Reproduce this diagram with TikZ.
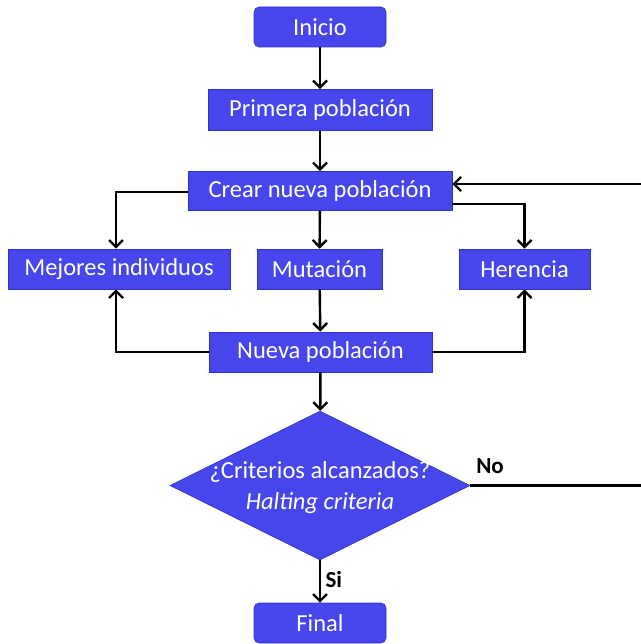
\documentclass[tikz,border=0pt]{standalone}
\usepackage{fontspec}
\setmainfont{Carlito}
\usetikzlibrary{arrows.meta,shapes.geometric}
\definecolor{boxblue}{RGB}{70,70,236}
\definecolor{boxedge}{RGB}{50,50,200}
\begin{document}
\begin{tikzpicture}[x=1pt,y=-1pt,
  box/.style={draw=boxedge,fill=boxblue,text=white,font=\fontsize{24.5}{28}\selectfont,inner sep=0pt,line width=0.6pt},
  rbox/.style={box,rounded corners=5pt},
  dec/.style={draw=boxedge,fill=boxblue,diamond,inner sep=0pt,line width=0.6pt},
  dectext/.style={text=white,font=\fontsize{24.5}{31}\selectfont,align=center,inner sep=0pt},
  conn/.style={draw=black,line width=2.4pt,-{Straight Barb[length=7pt,width=14pt]}},
  lbl/.style={font=\bfseries\fontsize{23}{26}\selectfont}]
\useasboundingbox (0,0) rectangle (640,644);
\node[rbox,minimum width=132pt,minimum height=40pt] (ini) at (320,27) {Inicio};
\node[box,minimum width=224pt,minimum height=41pt] (pri) at (320,110) {Primera población};
\node[box,minimum width=264pt,minimum height=39pt] (cre) at (320,191) {Crear nueva población};
\node[box,minimum width=222pt,minimum height=40pt] (mej) at (119,269) {Mejores individuos};
\node[box,minimum width=125pt,minimum height=40pt] (mut) at (319.5,269) {Mutación};
\node[box,minimum width=131pt,minimum height=40pt] (her) at (524.5,269) {Herencia};
\node[box,minimum width=223pt,minimum height=40pt] (nue) at (320.5,352) {Nueva población};
\node[dec,minimum width=300pt,minimum height=149pt] (dia) at (320,485.5) {};
\node[dectext] (diat) at (320,488) {¿Criterios alcanzados?\\\textit{Halting criteria}};
\node[rbox,minimum width=132pt,minimum height=40pt] (fin) at (320,623) {Final};
\coordinate (edgeR) at (648,485.5);
\coordinate (edgeT) at (648,184);
\draw[conn] (ini) -- (pri);
\draw[conn] (pri) -- (cre);
\draw[conn] (cre) -- (mut);
\draw[conn] (mut) -- (nue);
\draw[conn] (nue) -- (dia);
\draw[conn] (dia) -- node[lbl,right,pos=0.45,xshift=1pt]{Si} (fin);
\draw[conn] (cre.west |- 0,192) -| (mej.north -| 116,0);
\draw[conn] (cre.east |- 0,204) -| (her.north);
\draw[conn] (nue.west) -| (mej.south -| 116,0);
\draw[conn] (nue.east) -| (her.south);
\draw[conn] (dia.east) -- (edgeR) -- (edgeT) -- (cre.east |- edgeT);
\node[lbl] (no) at (490,466) {No};
\end{tikzpicture}
\end{document}
